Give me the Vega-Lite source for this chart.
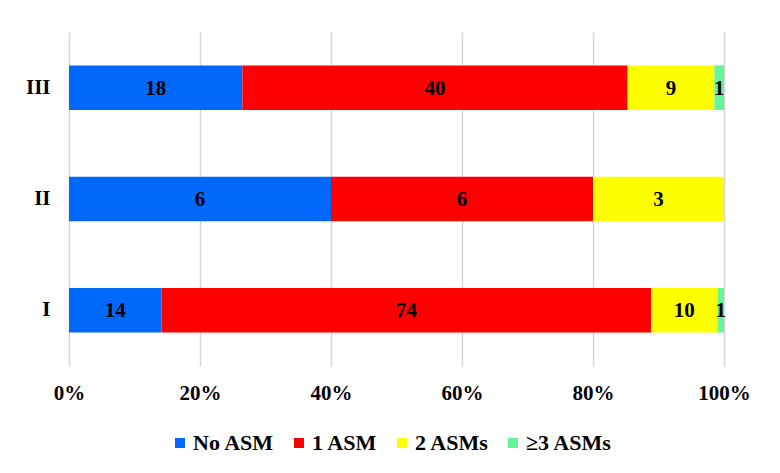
{
  "$schema": "https://vega.github.io/schema/vega-lite/v6.json",
  "width": 655,
  "height": 334,
  "autosize": {"type": "none"},
  "padding": {"left": 69, "top": 32, "right": 56, "bottom": 107},
  "background": "white",
  "data": {
    "values": [
      {"g": "III", "c": "No ASM", "k": 1, "n": 18},
      {"g": "III", "c": "1 ASM", "k": 2, "n": 40},
      {"g": "III", "c": "2 ASMs", "k": 3, "n": 9},
      {"g": "III", "c": "≥3 ASMs", "k": 4, "n": 1},
      {"g": "II", "c": "No ASM", "k": 1, "n": 6},
      {"g": "II", "c": "1 ASM", "k": 2, "n": 6},
      {"g": "II", "c": "2 ASMs", "k": 3, "n": 3},
      {"g": "I", "c": "No ASM", "k": 1, "n": 14},
      {"g": "I", "c": "1 ASM", "k": 2, "n": 74},
      {"g": "I", "c": "2 ASMs", "k": 3, "n": 10},
      {"g": "I", "c": "≥3 ASMs", "k": 4, "n": 1}
    ]
  },
  "transform": [
    {"stack": "n", "groupby": ["g"], "sort": [{"field": "k", "order": "ascending"}], "offset": "normalize", "as": ["x0", "x1"]},
    {"calculate": "(datum.x0 + datum.x1) / 2", "as": "mid"}
  ],
  "config": {
    "view": {"stroke": null},
    "font": "Liberation Serif",
    "axis": {
      "labelFont": "Liberation Serif",
      "labelFontSize": 21,
      "labelFontWeight": "bold",
      "labelColor": "black",
      "domain": false,
      "ticks": false,
      "title": null
    }
  },
  "encoding": {
    "y": {
      "field": "g",
      "type": "nominal",
      "sort": ["III", "II", "I"],
      "scale": {"paddingInner": 0.6, "paddingOuter": 0.3},
      "axis": {"labelPadding": 19, "grid": false}
    }
  },
  "layer": [
    {
      "mark": {"type": "bar"},
      "encoding": {
        "x": {
          "field": "x0",
          "type": "quantitative",
          "scale": {"domain": [0, 1], "nice": false},
          "axis": {
            "format": "%",
            "values": [0, 0.2, 0.4, 0.6, 0.8, 1],
            "grid": true,
            "gridColor": "#D6D6D6",
            "gridWidth": 1.5,
            "labelFlush": false,
            "labelPadding": 16
          }
        },
        "x2": {"field": "x1"},
        "color": {
          "field": "c",
          "type": "nominal",
          "scale": {
            "domain": ["No ASM", "1 ASM", "2 ASMs", "≥3 ASMs"],
            "range": ["#0068FA", "#FF0000", "#FFFF00", "#66F59A"]
          },
          "legend": {
            "title": null,
            "orient": "none",
            "legendX": 100,
            "legendY": 400,
            "direction": "horizontal",
            "symbolType": "square",
            "symbolSize": 100,
            "symbolStrokeWidth": 0,
            "labelFont": "Liberation Serif",
            "labelFontSize": 22,
            "labelFontWeight": "bold",
            "labelColor": "black",
            "labelOffset": 2,
            "columnPadding": 13
          }
        }
      }
    },
    {
      "mark": {"type": "text", "font": "Liberation Serif", "fontSize": 21, "fontWeight": "bold", "color": "black", "baseline": "middle", "align": "center", "dy": 1},
      "encoding": {
        "x": {"field": "mid", "type": "quantitative"},
        "text": {"field": "n", "type": "quantitative"}
      }
    }
  ]
}
